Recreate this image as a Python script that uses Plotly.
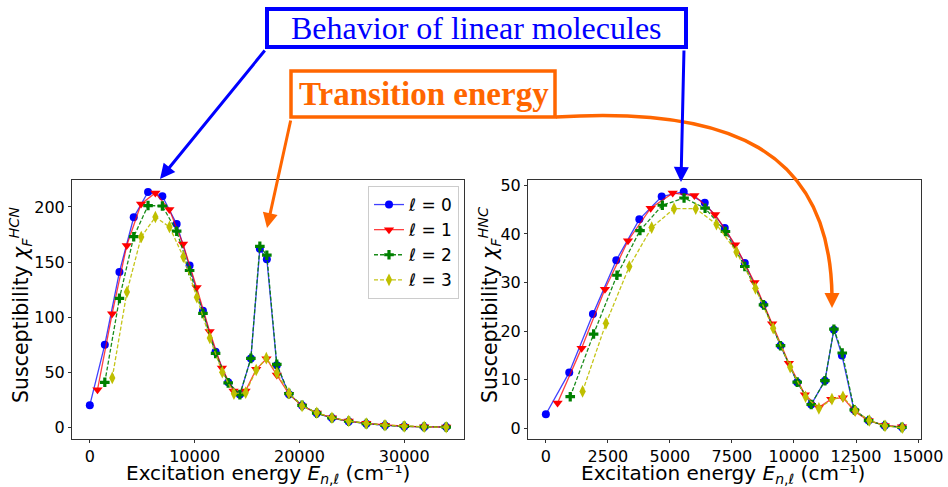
import plotly.graph_objects as go

# ---------------- data ----------------
series_labels = ["ℓ = 0", "ℓ = 1", "ℓ = 2", "ℓ = 3"]

tail_hcn = [19000, 20250, 21650, 23100, 24700, 26380, 28160, 30000, 31900, 34000]

E_hcn_l0 = [0, 1430, 2825, 4190, 5555, 6920, 8285, 9520, 10794, 12000, 13200, 14317, 15365,
            16222, 16889, 17840] + tail_hcn
chi_hcn_l0 = [20, 75, 141, 190.6, 213.6, 209.7, 184.6, 146.8, 105.7, 68.6, 40.8, 29.6, 62.5,
              162, 152.6, 56.2, 30, 19.8, 12.7, 8.3, 5.3, 3.2, 1.6, 0.7, 0.3, 0.1]

E_hcn_l1 = [730, 2127, 3524, 4889, 6254, 7587, 8889, 10190, 11430, 12603, 13714, 14857, 15873,
            16857, 17840] + tail_hcn
chi_hcn_l1 = [34, 103, 165, 202.7, 212.7, 197.6, 166.3, 126.9, 87, 53.7, 32.9, 33, 52.6,
              62.2, 47.4, 30, 19.3, 13, 8.6, 5.6, 3.5, 1.9, 0.9, 0.4, 0.2]

E_hcn_l2 = [1430, 2825, 4190, 5555, 6920, 8285, 9520, 10794, 12000, 13200, 14317, 15365,
            16222, 16889, 17840] + tail_hcn
chi_hcn_l2 = [40.8, 117, 173, 201.3, 200.9, 178, 142.3, 103.3, 67, 40.3, 29.6, 62.5,
              164.2, 156.2, 57.1, 30.5, 19.8, 12.8, 8.4, 5.4, 3.3, 1.7, 0.8, 0.4, 0.1]

E_hcn_l3 = [2140, 3540, 4905, 6255, 7600, 8920, 10210, 11450, 12640, 13750, 14870, 15875,
            16840, 17845] + tail_hcn
chi_hcn_l3 = [44.8, 122.8, 172.8, 190.9, 181.9, 154.8, 118, 81, 50, 30.5, 31.4, 52,
              62.7, 49.3, 30.8, 19.3, 13.1, 8.6, 5.6, 3.4, 1.8, 0.8, 0.4, 0.0]

E_hnc_l0 = [0, 942, 1897, 2839, 3767, 4668, 5556, 6404, 7211, 8018, 8772, 9458, 10130, 10695,
            11247, 11610, 11933, 12417, 13009, 13655, 14354]
chi_hnc_l0 = [2.9, 11.5, 23.5, 34.6, 43, 47.7, 48.7, 46.4, 41.2, 34, 25.5, 17, 9.5, 4.9,
              9.8, 20.3, 15, 3.8, 1.6, 0.55, 0.2]

E_hnc_l1 = [471, 1440, 2381, 3310, 4224, 5112, 5987, 6821, 7628, 8408, 9121, 9794, 10440,
            11005, 11503, 11974, 12458, 13009, 13655, 14354]
chi_hnc_l1 = [5.2, 16.5, 28.6, 38.6, 45.3, 48.4, 47.9, 44, 37.8, 30, 21.5, 13.4, 6.9,
              4.3, 6.0, 6.3, 3.4, 1.6, 0.6, 0.3]

E_hnc_l2 = [982, 1924, 2866, 3794, 4695, 5570, 6417, 7238, 8018, 8772, 9458, 10130, 10695,
            11247, 11610, 11946, 12430, 13009, 13655, 14354]
chi_hnc_l2 = [6.5, 19.4, 31.5, 40.7, 45.9, 47.4, 45.3, 40.5, 33.3, 25.4, 17, 9.5, 4.9,
              9.8, 20.4, 15.5, 3.8, 1.6, 0.55, 0.2]

E_hnc_l3 = [1480, 2422, 3363, 4265, 5166, 6041, 6875, 7682, 8449, 9162, 9848, 10467,
            11005, 11530, 11974, 12471, 13036, 13669, 14367]
chi_hnc_l3 = [7.6, 21.6, 33.3, 41.3, 45.2, 45.2, 42, 36.3, 28.8, 20.6, 12.6, 6.5,
              4.1, 6.0, 6.5, 3.6, 1.6, 0.5, 0.1]

hcn_xticks = [0, 10000, 20000, 30000]
hcn_yticks = [0, 50, 100, 150, 200]
hnc_xticks = [0, 2500, 5000, 7500, 10000, 12500, 15000]
hnc_yticks = [0, 10, 20, 30, 40, 50]

x_title = "Excitation energy <i>E</i><sub><i>n</i>,<i>ℓ</i></sub> (cm⁻¹)"
y_title_hcn = "Susceptibility <i>χ</i><sub><i>F</i></sub><sup><i>HCN</i></sup>"
y_title_hnc = "Susceptibility <i>χ</i><sub><i>F</i></sub><sup><i>HNC</i></sup>"
box_title_1 = "Behavior of linear molecules"
box_title_2 = "Transition energy"

# ---------------- styles ----------------
W, H = 948, 487
styles = [
    dict(color="#0000ff", line="rgba(0,0,255,0.75)", symbol="circle", size=8, dash="solid"),
    dict(color="#ff0000", line="rgba(255,0,0,0.75)", symbol="triangle-down", size=9, dash="solid"),
    dict(color="#008000", line="rgba(0,128,0,0.9)", symbol="cross", size=8, dash="4px,2px"),
    dict(color="#bfbf00", line="rgba(191,191,0,0.9)", symbol="diamond-tall", size=9, dash="4px,2px"),
]

hcn = [(E_hcn_l0, chi_hcn_l0), (E_hcn_l1, chi_hcn_l1), (E_hcn_l2, chi_hcn_l2), (E_hcn_l3, chi_hcn_l3)]
hnc = [(E_hnc_l0, chi_hnc_l0), (E_hnc_l1, chi_hnc_l1), (E_hnc_l2, chi_hnc_l2), (E_hnc_l3, chi_hnc_l3)]

fig = go.Figure()
for i, (xs, ys) in enumerate(hcn):
    s = styles[i]
    fig.add_trace(go.Scatter(
        x=xs, y=ys, mode="lines+markers", name=series_labels[i].replace("ℓ", "<i>ℓ</i>"),
        line=dict(color=s["line"], width=1.3, dash=s["dash"]),
        marker=dict(color=s["color"], symbol=s["symbol"], size=s["size"], line=dict(width=0)),
        xaxis="x", yaxis="y", showlegend=True))
for i, (xs, ys) in enumerate(hnc):
    s = styles[i]
    fig.add_trace(go.Scatter(
        x=xs, y=ys, mode="lines+markers", name=series_labels[i],
        line=dict(color=s["line"], width=1.3, dash=s["dash"]),
        marker=dict(color=s["color"], symbol=s["symbol"], size=s["size"], line=dict(width=0)),
        xaxis="x2", yaxis="y2", showlegend=False))


def px(x):
    return x / W


def py(y):
    return 1 - y / H


font = "DejaVu Sans"
axis_common = dict(
    showline=True, linecolor="#333333", linewidth=1, mirror=True, automargin=False,
    ticks="outside", ticklen=3, tickcolor="#333333", showgrid=False, zeroline=False,
    tickfont=dict(family=font, size=16, color="black"), tickformat="d",
)

fig.update_layout(
    template="none",
    width=W, height=H, autosize=False,
    margin=dict(l=0, r=0, t=0, b=0, pad=0, autoexpand=False),
    paper_bgcolor="white", plot_bgcolor="white",
    font=dict(family=font, color="black"),
    xaxis=dict(domain=[px(72), px(464)], range=[-1700, 35700], tickvals=hcn_xticks,
               anchor="y", **axis_common),
    yaxis=dict(domain=[py(439), py(180)], range=[-10.7, 224.5], tickvals=hcn_yticks,
               anchor="x", **axis_common),
    xaxis2=dict(domain=[px(528), px(921)], range=[-720, 15120], tickvals=hnc_xticks,
                anchor="y2", **axis_common),
    yaxis2=dict(domain=[py(439), py(180)], range=[-2.2, 51.1], tickvals=hnc_yticks,
                anchor="x2", **axis_common),
    legend=dict(x=px(459), xanchor="right", y=py(186), yanchor="top",
                bgcolor="white", bordercolor="#cccccc", borderwidth=1,
                font=dict(family=font, size=17), tracegroupgap=0),
)

blue = "#0000ff"
orange = "#ff6600"

shapes = [
    dict(type="rect", xref="paper", yref="paper", x0=px(267), x1=px(686), y0=py(47), y1=py(9),
         line=dict(color=blue, width=4), fillcolor="white", layer="above"),
    dict(type="rect", xref="paper", yref="paper", x0=px(291), x1=px(555), y0=py(117), y1=py(71),
         line=dict(color=orange, width=3.5), fillcolor="white", layer="above"),
    dict(type="path", xref="paper", yref="paper",
         path=f"M {px(556)} {py(117)} C {px(730)} {py(106)} {px(830)} {py(150)} {px(832)} {py(296)}",
         line=dict(color=orange, width=3.5)),
]
fig.update_layout(shapes=shapes)

annotations = [
    # axis titles
    dict(xref="paper", yref="paper", x=px(268), y=py(474), text=x_title, showarrow=False,
         xanchor="center", yanchor="middle", font=dict(family=font, size=20, color="black")),
    dict(xref="paper", yref="paper", x=px(723), y=py(474), text=x_title, showarrow=False,
         xanchor="center", yanchor="middle", font=dict(family=font, size=20, color="black")),
    dict(xref="paper", yref="paper", x=px(20), y=py(305), text=y_title_hcn, showarrow=False,
         textangle=-90, xanchor="center", yanchor="middle",
         font=dict(family=font, size=20.5, color="black")),
    dict(xref="paper", yref="paper", x=px(489), y=py(305), text=y_title_hnc, showarrow=False,
         textangle=-90, xanchor="center", yanchor="middle",
         font=dict(family=font, size=20.5, color="black")),
    # boxed titles
    dict(xref="paper", yref="paper", x=px(476), y=py(28), text=box_title_1,
         showarrow=False, xanchor="center", yanchor="middle",
         font=dict(family="Liberation Serif", size=32, color=blue)),
    dict(xref="paper", yref="paper", x=px(424), y=py(94), text="<b>" + box_title_2 + "</b>",
         showarrow=False, xanchor="center", yanchor="middle",
         font=dict(family="Liberation Serif", size=33, color=orange)),
    # blue arrows
    dict(xref="paper", yref="paper", x=px(160), y=py(179), ax=106, ay=-130, text="",
         showarrow=True, arrowhead=2, arrowsize=1, arrowwidth=3, arrowcolor=blue),
    dict(xref="paper", yref="paper", x=px(681), y=py(182), ax=3, ay=-133, text="",
         showarrow=True, arrowhead=2, arrowsize=1, arrowwidth=3, arrowcolor=blue),
    # orange arrows
    dict(xref="paper", yref="paper", x=px(267), y=py(228), ax=24, ay=-109, text="",
         showarrow=True, arrowhead=2, arrowsize=1, arrowwidth=3, arrowcolor=orange),
    dict(xref="paper", yref="paper", x=px(832), y=py(308), ax=0, ay=-16, text="",
         showarrow=True, arrowhead=2, arrowsize=1, arrowwidth=3, arrowcolor=orange),
]
fig.update_layout(annotations=annotations)

fig.write_html(
    "out.html",
    config={"displayModeBar": False, "responsive": False},
    post_script="document.body.style.margin='0px';document.body.style.overflow='hidden';",
)
